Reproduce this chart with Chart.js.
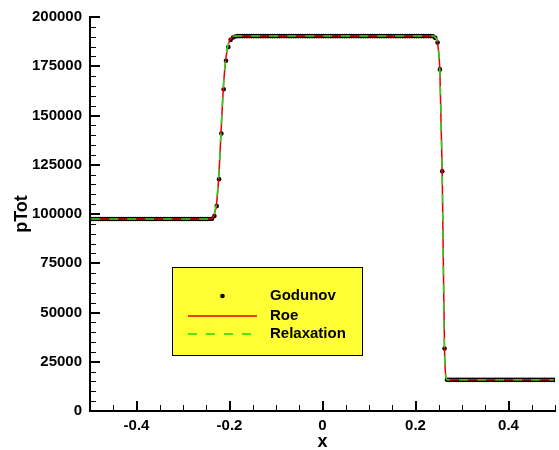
<!DOCTYPE html>
<html>
<head>
<meta charset="utf-8">
<title>pTot</title>
<script src="https://cdn.jsdelivr.net/npm/chart.js@4.4.1/dist/chart.umd.min.js"></script>
<style>
    html, body { margin: 0; padding: 0; background: #ffffff; }
    #chart { display: block; }
</style>
</head>
<body>
<canvas id="chart" width="559" height="450"></canvas>
<script>
// Cell centres of the 200-cell mesh
const cellX = [
    -0.4975, -0.4925, -0.4875, -0.4825, -0.4775, -0.4725, -0.4675, -0.4625, -0.4575, -0.4525,
    -0.4475, -0.4425, -0.4375, -0.4325, -0.4275, -0.4225, -0.4175, -0.4125, -0.4075, -0.4025,
    -0.3975, -0.3925, -0.3875, -0.3825, -0.3775, -0.3725, -0.3675, -0.3625, -0.3575, -0.3525,
    -0.3475, -0.3425, -0.3375, -0.3325, -0.3275, -0.3225, -0.3175, -0.3125, -0.3075, -0.3025,
    -0.2975, -0.2925, -0.2875, -0.2825, -0.2775, -0.2725, -0.2675, -0.2625, -0.2575, -0.2525,
    -0.2475, -0.2425, -0.2375, -0.2325, -0.2275, -0.2225, -0.2175, -0.2125, -0.2075, -0.2025,
    -0.1975, -0.1925, -0.1875, -0.1825, -0.1775, -0.1725, -0.1675, -0.1625, -0.1575, -0.1525,
    -0.1475, -0.1425, -0.1375, -0.1325, -0.1275, -0.1225, -0.1175, -0.1125, -0.1075, -0.1025,
    -0.0975, -0.0925, -0.0875, -0.0825, -0.0775, -0.0725, -0.0675, -0.0625, -0.0575, -0.0525,
    -0.0475, -0.0425, -0.0375, -0.0325, -0.0275, -0.0225, -0.0175, -0.0125, -0.0075, -0.0025,
    0.0025, 0.0075, 0.0125, 0.0175, 0.0225, 0.0275, 0.0325, 0.0375, 0.0425, 0.0475,
    0.0525, 0.0575, 0.0625, 0.0675, 0.0725, 0.0775, 0.0825, 0.0875, 0.0925, 0.0975,
    0.1025, 0.1075, 0.1125, 0.1175, 0.1225, 0.1275, 0.1325, 0.1375, 0.1425, 0.1475,
    0.1525, 0.1575, 0.1625, 0.1675, 0.1725, 0.1775, 0.1825, 0.1875, 0.1925, 0.1975,
    0.2025, 0.2075, 0.2125, 0.2175, 0.2225, 0.2275, 0.2325, 0.2375, 0.2425, 0.2475,
    0.2525, 0.2575, 0.2625, 0.2675, 0.2725, 0.2775, 0.2825, 0.2875, 0.2925, 0.2975,
    0.3025, 0.3075, 0.3125, 0.3175, 0.3225, 0.3275, 0.3325, 0.3375, 0.3425, 0.3475,
    0.3525, 0.3575, 0.3625, 0.3675, 0.3725, 0.3775, 0.3825, 0.3875, 0.3925, 0.3975,
    0.4025, 0.4075, 0.4125, 0.4175, 0.4225, 0.4275, 0.4325, 0.4375, 0.4425, 0.4475,
    0.4525, 0.4575, 0.4625, 0.4675, 0.4725, 0.4775, 0.4825, 0.4875, 0.4925, 0.4975
];

// Total pressure per cell, one list per scheme
const godunovP = [
    97500, 97500, 97500, 97500, 97500, 97500, 97500, 97500, 97500, 97500,
    97500, 97500, 97500, 97500, 97500, 97500, 97500, 97500, 97500, 97500,
    97500, 97500, 97500, 97500, 97500, 97500, 97500, 97500, 97500, 97500,
    97500, 97500, 97500, 97500, 97500, 97500, 97500, 97500, 97500, 97500,
    97500, 97500, 97500, 97500, 97500, 97500, 97500, 97500, 97500, 97500,
    97500, 97500, 97600, 99000, 104000, 117700, 140900, 163300, 177800, 184800,
    188400, 189600, 190100, 190300, 190300, 190300, 190300, 190300, 190300, 190300,
    190300, 190300, 190300, 190300, 190300, 190300, 190300, 190300, 190300, 190300,
    190300, 190300, 190300, 190300, 190300, 190300, 190300, 190300, 190300, 190300,
    190300, 190300, 190300, 190300, 190300, 190300, 190300, 190300, 190300, 190300,
    190300, 190300, 190300, 190300, 190300, 190300, 190300, 190300, 190300, 190300,
    190300, 190300, 190300, 190300, 190300, 190300, 190300, 190300, 190300, 190300,
    190300, 190300, 190300, 190300, 190300, 190300, 190300, 190300, 190300, 190300,
    190300, 190300, 190300, 190300, 190300, 190300, 190300, 190300, 190300, 190300,
    190300, 190300, 190300, 190300, 190300, 190300, 190300, 190200, 189400, 187000,
    173400, 121700, 31700, 15900, 15800, 15800, 15800, 15800, 15800, 15800,
    15800, 15800, 15800, 15800, 15800, 15800, 15800, 15800, 15800, 15800,
    15800, 15800, 15800, 15800, 15800, 15800, 15800, 15800, 15800, 15800,
    15800, 15800, 15800, 15800, 15800, 15800, 15800, 15800, 15800, 15800,
    15800, 15800, 15800, 15800, 15800, 15800, 15800, 15800, 15800, 15800
];

const roeP = [
    97500, 97500, 97500, 97500, 97500, 97500, 97500, 97500, 97500, 97500,
    97500, 97500, 97500, 97500, 97500, 97500, 97500, 97500, 97500, 97500,
    97500, 97500, 97500, 97500, 97500, 97500, 97500, 97500, 97500, 97500,
    97500, 97500, 97500, 97500, 97500, 97500, 97500, 97500, 97500, 97500,
    97500, 97500, 97500, 97500, 97500, 97500, 97500, 97500, 97500, 97500,
    97500, 97500, 97700, 99800, 106000, 121000, 145000, 166500, 179500, 186000,
    189000, 190000, 190300, 190300, 190300, 190300, 190300, 190300, 190300, 190300,
    190300, 190300, 190300, 190300, 190300, 190300, 190300, 190300, 190300, 190300,
    190300, 190300, 190300, 190300, 190300, 190300, 190300, 190300, 190300, 190300,
    190300, 190300, 190300, 190300, 190300, 190300, 190300, 190300, 190300, 190300,
    190300, 190300, 190300, 190300, 190300, 190300, 190300, 190300, 190300, 190300,
    190300, 190300, 190300, 190300, 190300, 190300, 190300, 190300, 190300, 190300,
    190300, 190300, 190300, 190300, 190300, 190300, 190300, 190300, 190300, 190300,
    190300, 190300, 190300, 190300, 190300, 190300, 190300, 190300, 190300, 190300,
    190300, 190300, 190300, 190300, 190300, 190300, 190300, 190300, 189800, 186500,
    172000, 120000, 30000, 15900, 15800, 15800, 15800, 15800, 15800, 15800,
    15800, 15800, 15800, 15800, 15800, 15800, 15800, 15800, 15800, 15800,
    15800, 15800, 15800, 15800, 15800, 15800, 15800, 15800, 15800, 15800,
    15800, 15800, 15800, 15800, 15800, 15800, 15800, 15800, 15800, 15800,
    15800, 15800, 15800, 15800, 15800, 15800, 15800, 15800, 15800, 15800
];

const relaxP = [
    97500, 97500, 97500, 97500, 97500, 97500, 97500, 97500, 97500, 97500,
    97500, 97500, 97500, 97500, 97500, 97500, 97500, 97500, 97500, 97500,
    97500, 97500, 97500, 97500, 97500, 97500, 97500, 97500, 97500, 97500,
    97500, 97500, 97500, 97500, 97500, 97500, 97500, 97500, 97500, 97500,
    97500, 97500, 97500, 97500, 97500, 97500, 97500, 97500, 97500, 97500,
    97500, 97500, 97800, 100500, 107000, 122000, 146000, 167000, 180000, 186300,
    189200, 190100, 190300, 190300, 190300, 190300, 190300, 190300, 190300, 190300,
    190300, 190300, 190300, 190300, 190300, 190300, 190300, 190300, 190300, 190300,
    190300, 190300, 190300, 190300, 190300, 190300, 190300, 190300, 190300, 190300,
    190300, 190300, 190300, 190300, 190300, 190300, 190300, 190300, 190300, 190300,
    190300, 190300, 190300, 190300, 190300, 190300, 190300, 190300, 190300, 190300,
    190300, 190300, 190300, 190300, 190300, 190300, 190300, 190300, 190300, 190300,
    190300, 190300, 190300, 190300, 190300, 190300, 190300, 190300, 190300, 190300,
    190300, 190300, 190300, 190300, 190300, 190300, 190300, 190300, 190300, 190300,
    190300, 190300, 190300, 190300, 190300, 190300, 190300, 190300, 189700, 186000,
    170500, 117500, 28500, 16000, 15800, 15800, 15800, 15800, 15800, 15800,
    15800, 15800, 15800, 15800, 15800, 15800, 15800, 15800, 15800, 15800,
    15800, 15800, 15800, 15800, 15800, 15800, 15800, 15800, 15800, 15800,
    15800, 15800, 15800, 15800, 15800, 15800, 15800, 15800, 15800, 15800,
    15800, 15800, 15800, 15800, 15800, 15800, 15800, 15800, 15800, 15800
];

const seriesNames = ['Godunov', 'Roe', 'Relaxation'];

// Axis ticks
const xTicks = [-0.4, -0.2, 0, 0.2, 0.4];
const yTicks = [0, 25000, 50000, 75000, 100000, 125000, 150000, 175000, 200000];
const xMinorStep = 0.05;
const yMinorStep = 5000;

const FONT = "'Liberation Sans', Arial, Helvetica, sans-serif";
const RED = '#e80000';
const GREEN = '#1ed81e';
const DASH = [9, 9];

function toPoints(values) {
    return cellX.map((x, i) => ({ x: x, y: values[i] }));
}

// Inward major/minor tick marks on both axes
const inwardTicks = {
    id: 'inwardTicks',
    afterDraw(chart) {
        const ctx = chart.ctx;
        const area = chart.chartArea;
        const xs = chart.scales.x;
        const ys = chart.scales.y;
        ctx.save();
        ctx.strokeStyle = '#000';

        ctx.lineWidth = 1;
        for (let v = xs.min; v <= xs.max + 1e-9; v += xMinorStep) {
            const px = Math.round(xs.getPixelForValue(v)) + 0.5;
            ctx.beginPath();
            ctx.moveTo(px, area.bottom);
            ctx.lineTo(px, area.bottom - 6);
            ctx.stroke();
        }
        for (let v = ys.min; v <= ys.max + 1e-9; v += yMinorStep) {
            const py = Math.round(ys.getPixelForValue(v)) + 0.5;
            ctx.beginPath();
            ctx.moveTo(area.left, py);
            ctx.lineTo(area.left + 6, py);
            ctx.stroke();
        }

        ctx.lineWidth = 2;
        xTicks.forEach(v => {
            const px = Math.round(xs.getPixelForValue(v));
            ctx.beginPath();
            ctx.moveTo(px, area.bottom);
            ctx.lineTo(px, area.bottom - 10);
            ctx.stroke();
        });
        yTicks.forEach(v => {
            const py = Math.round(ys.getPixelForValue(v));
            ctx.beginPath();
            ctx.moveTo(area.left, py);
            ctx.lineTo(area.left + 10, py);
            ctx.stroke();
        });
        ctx.restore();
    }
};

// Yellow boxed legend inside the plot
const boxLegend = {
    id: 'boxLegend',
    afterDraw(chart) {
        const ctx = chart.ctx;
        const area = chart.chartArea;
        const left = area.left + 82.5;
        const top = area.top + 250.5;
        ctx.save();
        ctx.fillStyle = '#ffff33';
        ctx.fillRect(left, top, 190, 88);
        ctx.strokeStyle = '#000';
        ctx.lineWidth = 1;
        ctx.strokeRect(left, top, 190, 88);

        const sx0 = area.left + 98;
        const sx1 = area.left + 167;
        const textX = area.left + 180;
        const rows = [area.top + 279, area.top + 299, area.top + 317];

        // Godunov marker
        ctx.fillStyle = '#000';
        ctx.beginPath();
        ctx.arc((sx0 + sx1) / 2, rows[0], 2.3, 0, Math.PI * 2);
        ctx.fill();

        // Roe line
        ctx.strokeStyle = RED;
        ctx.lineWidth = 1.5;
        ctx.beginPath();
        ctx.moveTo(sx0, rows[1]);
        ctx.lineTo(sx1, rows[1]);
        ctx.stroke();

        // Relaxation dashes
        ctx.strokeStyle = GREEN;
        ctx.setLineDash(DASH);
        ctx.beginPath();
        ctx.moveTo(sx0, rows[2]);
        ctx.lineTo(sx1, rows[2]);
        ctx.stroke();
        ctx.setLineDash([]);

        ctx.fillStyle = '#000';
        ctx.font = 'bold 15px ' + FONT;
        ctx.textBaseline = 'middle';
        ctx.textAlign = 'left';
        seriesNames.forEach((name, i) => ctx.fillText(name, textX, rows[i]));
        ctx.restore();
    }
};

const ctx = document.getElementById('chart').getContext('2d');
new Chart(ctx, {
    type: 'line',
    data: {
        datasets: [
            {
                label: seriesNames[2],
                data: toPoints(relaxP),
                borderColor: GREEN,
                borderWidth: 1.5,
                borderDash: DASH,
                pointRadius: 0,
                fill: false,
                cubicInterpolationMode: 'monotone',
                order: 1
            },
            {
                label: seriesNames[1],
                data: toPoints(roeP),
                borderColor: RED,
                borderWidth: 1.5,
                pointRadius: 0,
                fill: false,
                cubicInterpolationMode: 'monotone',
                order: 2
            },
            {
                label: seriesNames[0],
                data: toPoints(godunovP),
                showLine: false,
                pointRadius: 2.3,
                pointBorderWidth: 0,
                pointBackgroundColor: '#000',
                order: 3
            }
        ]
    },
    options: {
        responsive: false,
        animation: false,
        events: [],
        layout: { padding: { top: 15, right: 4, left: 0, bottom: 0 } },
        plugins: {
            legend: { display: false },
            tooltip: { enabled: false }
        },
        scales: {
            x: {
                type: 'linear',
                min: -0.5,
                max: 0.5,
                afterBuildTicks: scale => { scale.ticks = xTicks.map(v => ({ value: v })); },
                afterFit: scale => { scale.height = 39; },
                grid: { display: false, drawTicks: false },
                border: { display: true, color: '#000', width: 2 },
                ticks: {
                    color: '#000',
                    padding: 6,
                    maxRotation: 0,
                    font: { family: FONT, size: 15, weight: 'bold' },
                    callback: v => String(v)
                },
                title: {
                    display: true,
                    text: 'x',
                    color: '#000',
                    padding: { top: 0, bottom: 0 },
                    font: { family: FONT, size: 18, weight: 'bold', lineHeight: 0.9 }
                }
            },
            y: {
                type: 'linear',
                min: 0,
                max: 200000,
                afterBuildTicks: scale => { scale.ticks = yTicks.map(v => ({ value: v })); },
                afterFit: scale => { scale.width = 90; },
                grid: { display: false, drawTicks: false },
                border: { display: true, color: '#000', width: 2 },
                ticks: {
                    color: '#000',
                    padding: 8,
                    font: { family: FONT, size: 15, weight: 'bold' },
                    callback: v => String(v)
                },
                title: {
                    display: true,
                    text: 'pTot',
                    color: '#000',
                    padding: { top: 11, bottom: 0 },
                    font: { family: FONT, size: 18, weight: 'bold' }
                }
            }
        }
    },
    plugins: [inwardTicks, boxLegend]
});
</script>
</body>
</html>
